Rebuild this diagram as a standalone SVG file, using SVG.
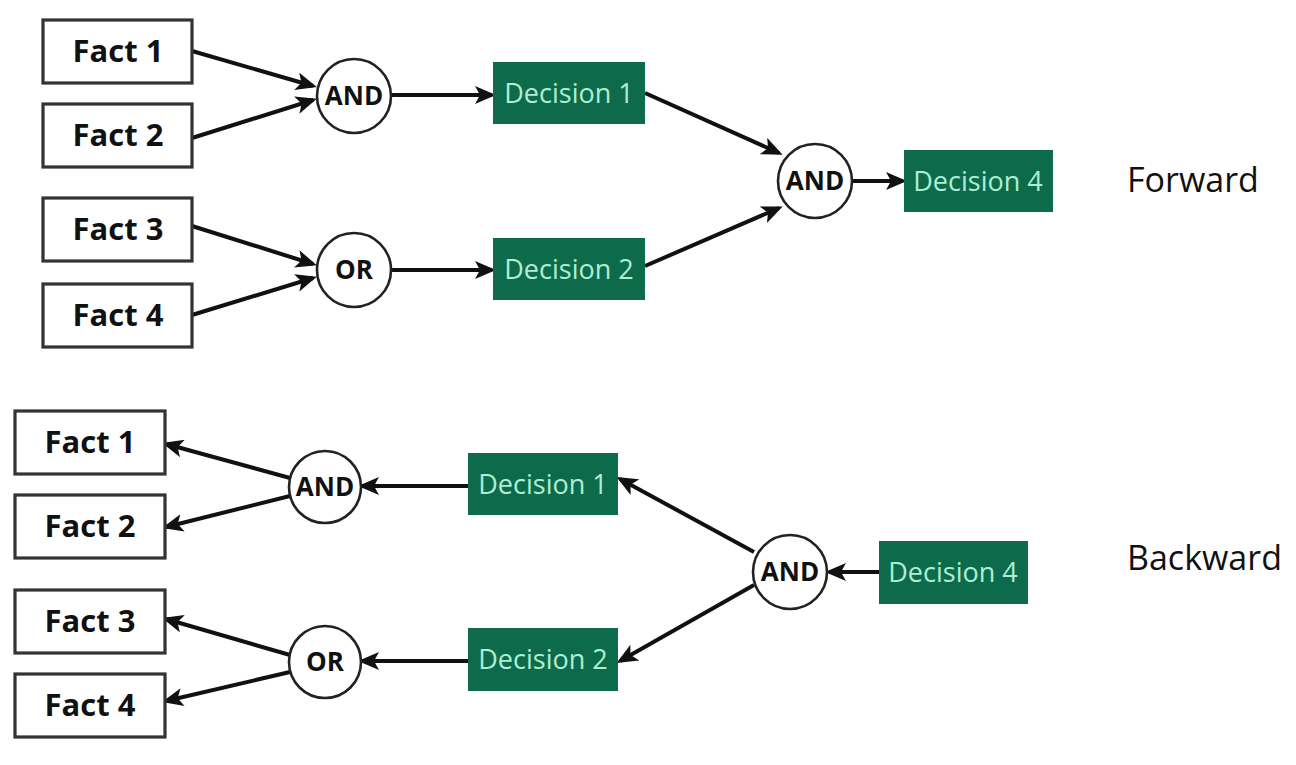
<svg xmlns="http://www.w3.org/2000/svg" width="1296" height="765" viewBox="0 0 1296 765">
<defs>
<style>
.fact rect{fill:#fff;stroke:#333;stroke-width:3.2}
.fact text{font-family:"Open Sans","Liberation Sans",sans-serif;font-weight:bold;font-size:31px;fill:#111;text-anchor:middle}
.gate circle{fill:#fff;stroke:#222;stroke-width:2.6}
.gate text{font-family:"Open Sans","Liberation Sans",sans-serif;font-weight:bold;font-size:26px;fill:#111;text-anchor:middle}
.dec rect{fill:#0d6b4c}
.dec text{font-family:"Open Sans","Liberation Sans",sans-serif;font-size:27px;font-weight:500;fill:#aeeed3;text-anchor:middle}
.lbl{font-family:"Open Sans","Liberation Sans",sans-serif;font-size:34px;fill:#111}
#connectors line{stroke:#111;stroke-width:4;marker-end:url(#arr)}
</style>
<marker id="arr" markerUnits="userSpaceOnUse" markerWidth="22" markerHeight="18" refX="17" refY="9" orient="auto">
<path d="M0,0 L21,9 L0,18 L5,9 Z" fill="#111"/>
</marker>
</defs>
<rect width="1296" height="765" fill="#fff"/>

<g id="connectors">
<!-- forward -->
<line x1="192" y1="51" x2="313" y2="86"/>
<line x1="192" y1="138" x2="313" y2="100"/>
<line x1="192" y1="226" x2="313" y2="264"/>
<line x1="192" y1="315" x2="313" y2="278"/>
<line x1="391" y1="95" x2="492" y2="95"/>
<line x1="391" y1="270" x2="492" y2="270"/>
<line x1="645" y1="93" x2="779" y2="153"/>
<line x1="645" y1="266" x2="779" y2="208"/>
<line x1="852" y1="181" x2="903" y2="181"/>
<!-- backward -->
<line x1="879" y1="572" x2="829" y2="572"/>
<line x1="754" y1="552" x2="620" y2="479"/>
<line x1="754" y1="585" x2="620" y2="661"/>
<line x1="468" y1="486" x2="362" y2="486"/>
<line x1="468" y1="661" x2="362" y2="661"/>
<line x1="290" y1="478" x2="166" y2="444"/>
<line x1="290" y1="496" x2="166" y2="527"/>
<line x1="290" y1="655" x2="166" y2="619"/>
<line x1="290" y1="672" x2="166" y2="701"/>
</g>

<!-- forward nodes -->
<g id="f-fact1" class="fact"><rect x="43" y="20" width="149" height="63"/><text x="118" y="62">Fact 1</text></g>
<g id="f-fact2" class="fact"><rect x="43" y="104" width="149" height="63"/><text x="118" y="146">Fact 2</text></g>
<g id="f-fact3" class="fact"><rect x="43" y="198" width="149" height="63"/><text x="118" y="240">Fact 3</text></g>
<g id="f-fact4" class="fact"><rect x="43" y="284" width="149" height="63"/><text x="118" y="326">Fact 4</text></g>
<g id="f-and1" class="gate"><circle cx="354" cy="96" r="37"/><text x="354" y="105">AND</text></g>
<g id="f-or1" class="gate"><circle cx="354" cy="270" r="37"/><text x="354" y="279">OR</text></g>
<g id="f-dec1" class="dec"><rect x="493" y="62" width="152" height="62"/><text x="569" y="103">Decision 1</text></g>
<g id="f-dec2" class="dec"><rect x="493" y="238" width="152" height="62"/><text x="569" y="279">Decision 2</text></g>
<g id="f-and2" class="gate"><circle cx="815" cy="181" r="37"/><text x="815" y="190">AND</text></g>
<g id="f-dec4" class="dec"><rect x="904" y="150" width="149" height="62"/><text x="978" y="191">Decision 4</text></g>
<text id="lbl-forward" class="lbl" x="1127" y="192">Forward</text>

<!-- backward nodes -->
<g id="b-fact1" class="fact"><rect x="15" y="411" width="150" height="63"/><text x="90" y="453">Fact 1</text></g>
<g id="b-fact2" class="fact"><rect x="15" y="495" width="150" height="63"/><text x="90" y="537">Fact 2</text></g>
<g id="b-fact3" class="fact"><rect x="15" y="590" width="150" height="63"/><text x="90" y="632">Fact 3</text></g>
<g id="b-fact4" class="fact"><rect x="15" y="674" width="150" height="63"/><text x="90" y="716">Fact 4</text></g>
<g id="b-and1" class="gate"><circle cx="325" cy="487" r="36"/><text x="325" y="496">AND</text></g>
<g id="b-or1" class="gate"><circle cx="325" cy="662" r="36"/><text x="325" y="671">OR</text></g>
<g id="b-dec1" class="dec"><rect x="468" y="453" width="150" height="62"/><text x="543" y="494">Decision 1</text></g>
<g id="b-dec2" class="dec"><rect x="468" y="628" width="150" height="63"/><text x="543" y="669">Decision 2</text></g>
<g id="b-and2" class="gate"><circle cx="790" cy="572" r="37"/><text x="790" y="581">AND</text></g>
<g id="b-dec4" class="dec"><rect x="879" y="541" width="149" height="63"/><text x="953" y="582">Decision 4</text></g>
<text id="lbl-backward" class="lbl" x="1127" y="570">Backward</text>
</svg>
